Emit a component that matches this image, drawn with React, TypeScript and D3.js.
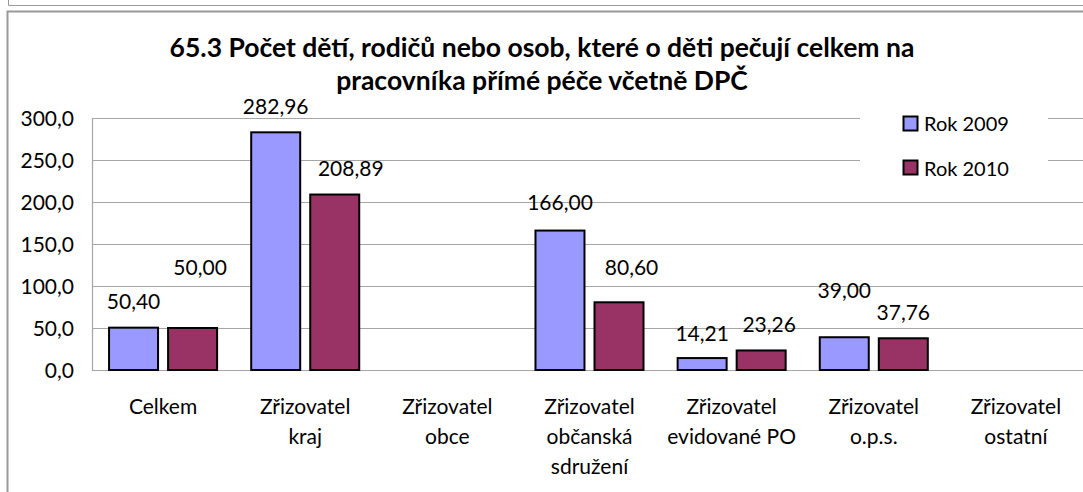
import React from "react";
import * as d3 from "d3";

const categories: string[][] = [
  ["Celkem"],
  ["Zřizovatel", "kraj"],
  ["Zřizovatel", "obce"],
  ["Zřizovatel", "občanská", "sdružení"],
  ["Zřizovatel", "evidované PO"],
  ["Zřizovatel", "o.p.s."],
  ["Zřizovatel", "ostatní"],
];
const seriesNames = ["Rok 2009", "Rok 2010"];
const values2009: (number | null)[] = [50.4, 282.96, null, 166.0, 14.21, 39.0, null];
const values2010: (number | null)[] = [50.0, 208.89, null, 80.6, 23.26, 37.76, null];
const yTicks = [0, 50, 100, 150, 200, 250, 300];
const titleLines = [
  "65.3 Počet dětí, rodičů nebo osob, které o děti pečují celkem na",
  "pracovníka přímé péče včetně DPČ",
];
// manual label placement offsets [dx, distance above bar top]
const labelOffsets2009: number[][] = [[0, 26], [0, 26], [0, 0], [0, 28], [0, 25], [0, 47], [0, 0]];
const labelOffsets2010: number[][] = [[7.5, 61], [16, 26.5], [0, 0], [12.5, 35], [8, 26], [0, 26], [0, 0]];

const colors = ["#9999FF", "#993366"];
const FONT = "Lato, 'Open Sans', sans-serif";

export default function App() {
  const W = 1083, H = 492;
  const left = 92, right = 1087, top = 118, bottom = 370;
  const keys = categories.map((c) => c.join(" "));
  const x = d3.scaleBand<string>().domain(keys).range([left, right]).paddingInner(0).paddingOuter(0);
  const bw = x.bandwidth();
  const xs = d3.scaleBand<string>().domain(seriesNames).range([bw * 0.12, bw * 0.88]).paddingInner(0.17);
  const y = d3.scaleLinear().domain([0, 300]).range([bottom, top]);
  const fmtTick = (v: number) => d3.format(".1f")(v).replace(".", ",");
  const fmtVal = (v: number) => d3.format(".2f")(v).replace(".", ",");
  const allSeries = [values2009, values2010];
  const allOffsets = [labelOffsets2009, labelOffsets2010];

  return (
    <div style={{ position: "absolute", left: 0, top: 0, width: W, height: H, overflow: "hidden" }}>
      <svg width={W} height={H} style={{ display: "block", background: "#fff" }} fontFamily={FONT}>
        {/* previous box remnant */}
        <path d={`M8.5,0 V5.5 H${W}`} fill="none" stroke="#999" strokeWidth={1} />
        {/* chart box */}
        <path d={`M7.5,${H} V11.5 H${W}`} fill="none" stroke="#999" strokeWidth={2} />

        {/* title */}
        {titleLines.map((t, i) => (
          <text key={i} x={542} y={57 + i * 33} textAnchor="middle" fontWeight="bold" fontSize={26.5} fill="#000">
            {t}
          </text>
        ))}

        {/* gridlines */}
        {yTicks.map((t) => (
          <line key={t} x1={left} x2={right} y1={Math.round(y(t)) + 0.5} y2={Math.round(y(t)) + 0.5} stroke="#a6a6a6" strokeWidth={1.2} />
        ))}
        <line x1={left + 0.5} x2={left + 0.5} y1={top} y2={bottom + 0.5} stroke="#a6a6a6" strokeWidth={1.2} />

        {/* y tick labels */}
        {yTicks.map((t) => (
          <text key={t} x={74} y={y(t) + 7.5} textAnchor="end" fontSize={21} fill="#000">
            {fmtTick(t)}
          </text>
        ))}

        {/* bars */}
        {allSeries.map((vals, si) =>
          vals.map((v, ci) =>
            v == null ? null : (
              <rect
                key={`${si}-${ci}`}
                x={(x(keys[ci]) as number) + (xs(seriesNames[si]) as number)}
                y={y(v)}
                width={xs.bandwidth()}
                height={bottom - y(v)}
                fill={colors[si]}
                stroke="#000"
                strokeWidth={2}
              />
            )
          )
        )}

        {/* value labels */}
        {allSeries.map((vals, si) =>
          vals.map((v, ci) =>
            v == null ? null : (
              <text
                key={`l${si}-${ci}`}
                x={(x(keys[ci]) as number) + (xs(seriesNames[si]) as number) + xs.bandwidth() / 2 + allOffsets[si][ci][0]}
                y={y(v) - allOffsets[si][ci][1] + 7.5}
                textAnchor="middle"
                fontSize={21}
                fill="#000"
              >
                {fmtVal(v)}
              </text>
            )
          )
        )}

        {/* category labels */}
        {categories.map((lines, ci) =>
          lines.map((ln, li) => (
            <text
              key={`c${ci}-${li}`}
              x={(x(keys[ci]) as number) + bw / 2}
              y={414 + li * 30}
              textAnchor="middle"
              fontSize={21}
              fill="#000"
            >
              {ln}
            </text>
          ))
        )}

        {/* legend */}
        <rect x={860} y={104} width={188} height={84} fill="#fff" />
        {seriesNames.map((s, i) => (
          <g key={s}>
            <rect x={903.5} y={116.5 + i * 44} width={14} height={14} fill={colors[i]} stroke="#000" strokeWidth={2} />
            <text x={924} y={131 + i * 45} fontSize={20} fill="#000">
              {s}
            </text>
          </g>
        ))}
      </svg>
    </div>
  );
}
